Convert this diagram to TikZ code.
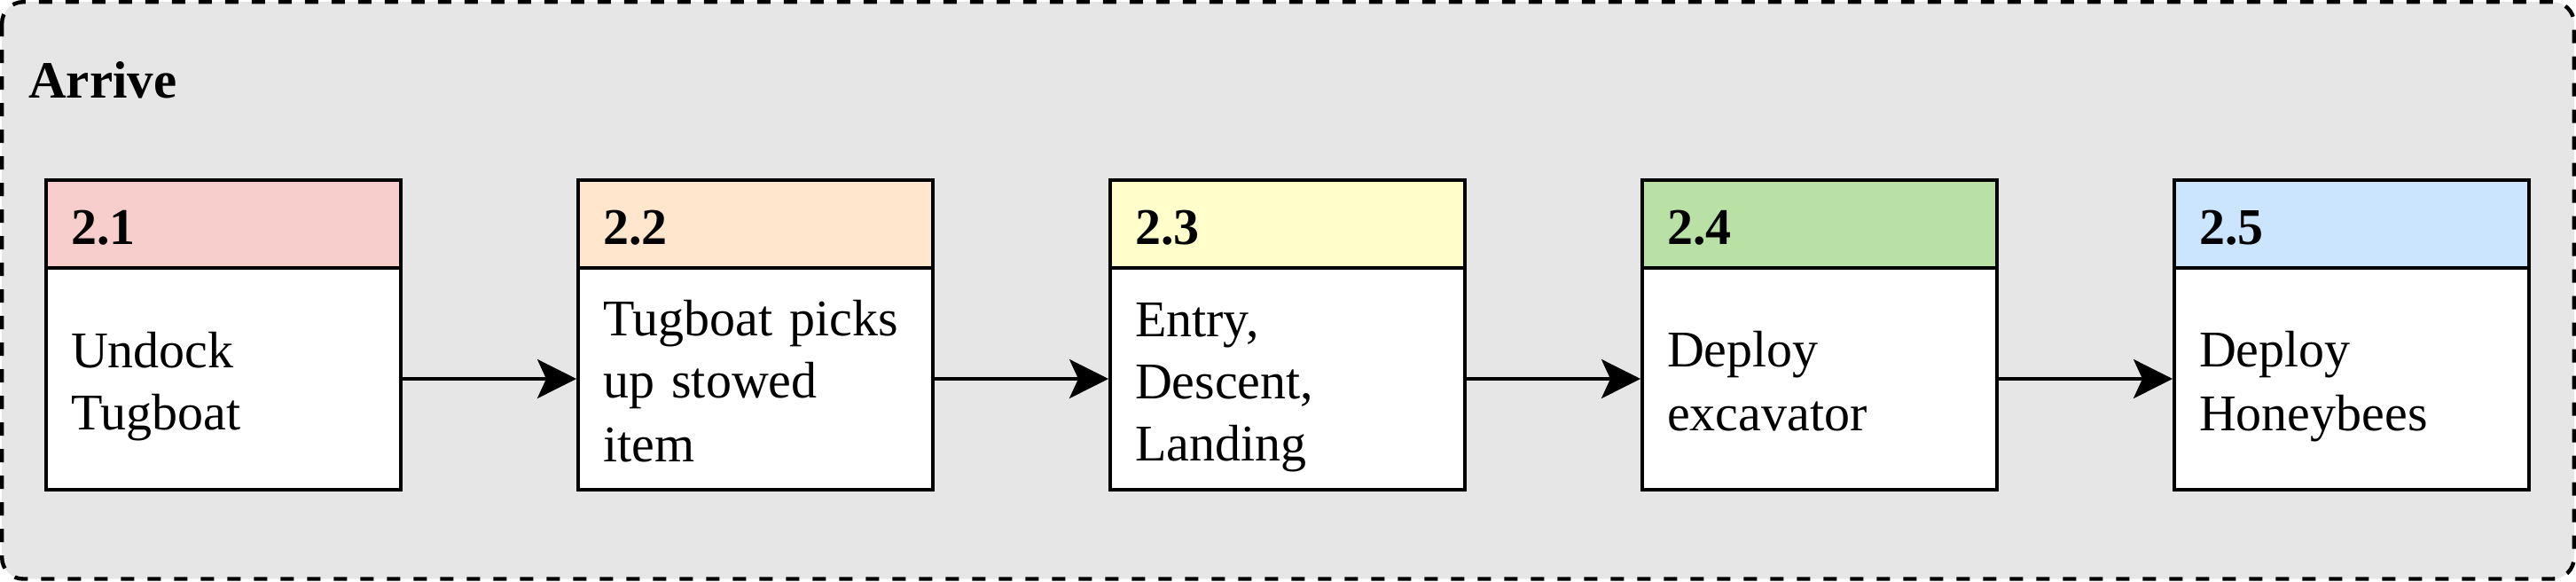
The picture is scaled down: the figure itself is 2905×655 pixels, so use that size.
\documentclass[tikz,border=0pt]{standalone}
\usepackage{fontspec}
\setmainfont{Liberation Serif}
\usetikzlibrary{arrows.meta}
\definecolor{outerfill}{HTML}{E6E6E6}
\definecolor{hdA}{HTML}{F8CECC}
\definecolor{hdB}{HTML}{FFE6CC}
\definecolor{hdC}{HTML}{FFFFCC}
\definecolor{hdD}{HTML}{B9E0A5}
\definecolor{hdE}{HTML}{CCE5FF}
\newcommand{\dstrut}{\rule[-6.15pt]{0pt}{35pt}}
\begin{document}
\begin{tikzpicture}[x=0.5pt,y=-0.5pt,
  every node/.style={font=\fontsize{29pt}{35pt}\selectfont},
  frame/.style={draw=black, line width=2.2pt, fill=outerfill, dash pattern=on 7.5pt off 7.5pt, rounded corners=12pt},
  title/.style={font=\fontsize{29.5pt}{35pt}\selectfont\bfseries, inner sep=0pt, anchor=base west},
  head/.style={draw=black, line width=2pt, minimum width=200pt, minimum height=49.5pt,
    inner xsep=14pt, inner ysep=0pt, text width=172pt, align=left,
    font=\fontsize{29pt}{35pt}\selectfont\bfseries, execute at begin node=\dstrut},
  body/.style={draw=black, fill=white, line width=2pt, minimum width=200pt, minimum height=125pt,
    inner xsep=14pt, inner ysep=0pt, text width=172pt, align=left,
    execute at begin node=\dstrut, execute at end node=\dstrut},
  flow/.style={line width=2pt, -{Stealth[length=22pt,width=22pt,inset=5pt]}}
]
\useasboundingbox (0,0) rectangle (2905,655);
\draw[frame] (2.2,2.2) rectangle (2902.8,652.5);
\node[title] (arrive) at (32,110) {Arrive};

\node[head, fill=hdA] (h1) at (252,252.5) {2.1};
\node[body] (b1) at (252,427) {Undock\\Tugboat};
\node[head, fill=hdB] (h2) at (852,252.5) {2.2};
\node[body] (b2) at (852,427) {Tugboat picks\\up stowed\\item};
\node[head, fill=hdC] (h3) at (1452,252.5) {2.3};
\node[body] (b3) at (1452,427) {Entry,\\Descent,\\Landing};
\node[head, fill=hdD] (h4) at (2052,252.5) {2.4};
\node[body] (b4) at (2052,427) {Deploy\\excavator};
\node[head, fill=hdE] (h5) at (2652,252.5) {2.5};
\node[body] (b5) at (2652,427) {Deploy\\Honeybees};

\draw[flow] (b1.east) -- (b2.west);
\draw[flow] (b2.east) -- (b3.west);
\draw[flow] (b3.east) -- (b4.west);
\draw[flow] (b4.east) -- (b5.west);
\end{tikzpicture}
\end{document}
